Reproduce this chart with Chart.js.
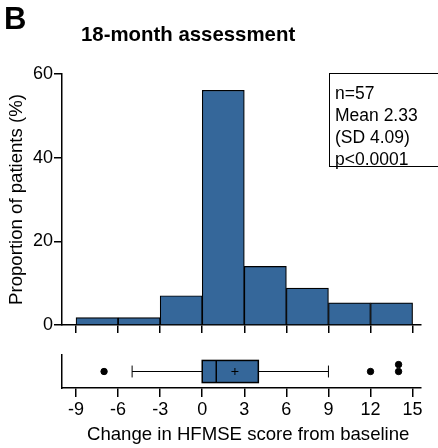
<!DOCTYPE html>
<html>
<head>
<meta charset="utf-8">
<script src="https://cdn.jsdelivr.net/npm/chart.js@4"></script>
<style>
    body { margin: 0; background: #fff; font-family: 'Liberation Sans', Arial, sans-serif; }
    #wrap { position: relative; width: 438px; height: 448px; overflow: hidden; }
    #panel { position: absolute; left: 4px; top: 1px; font-size: 31px; font-weight: bold; }
    #title { position: absolute; left: 81px; top: 23px; font-size: 20.4px; font-weight: bold; }
    #stats { position: absolute; left: 329px; top: 73px; width: 120px; height: 94px; border: 1px solid #000;
             box-sizing: border-box; padding: 8px 0 0 5px; font-size: 17.5px; line-height: 22px; }
    #xTitle { position: absolute; left: 87px; top: 423px; font-size: 18.6px; line-height: 21px; white-space: nowrap; }
    #histCanvas { position: absolute; left: 0; top: 0; }
    #boxCanvas { position: absolute; left: 0; top: 340px; }
</style>
</head>
<body>
<div id="wrap">
    <canvas id="histCanvas" width="438" height="345"></canvas>
    <canvas id="boxCanvas" width="438" height="108"></canvas>
    <div id="panel">B</div>
    <div id="title">18-month assessment</div>
    <div id="stats">n=57<br>Mean 2.33<br>(SD 4.09)<br>p&lt;0.0001</div>
    <div id="xTitle">Change in HFMSE score from baseline</div>
</div>
<script>
// histogram bins (width 3) and proportion of patients (%)
const binStarts = [-9, -6, -3, 0, 3, 6, 9, 12];
const proportions = [1.75, 1.75, 7.0, 56.1, 14.0, 8.8, 5.3, 5.3];
const xTicks = [-9, -6, -3, 0, 3, 6, 9, 12, 15];
const yTicks = [0, 20, 40, 60];

// box plot summary
const whiskerLow = -5, q1 = 0, median = 1, q3 = 4, whiskerHigh = 9, mean = 2.33;
const outlierX = [-7, 12, 14, 14];
const outlierY = [0, 0, 0, 0.42];

const barColor = '#35679a';
const fontFamily = "'Liberation Sans', Arial, sans-serif";
Chart.defaults.font.family = fontFamily;
Chart.defaults.color = '#000';

const X_MIN = -10, X_MAX = 15.6;

new Chart(document.getElementById('histCanvas'), {
    type: 'bar',
    data: {
        datasets: [{
            data: binStarts.map((s, i) => ({ x: s + 1.5, y: proportions[i] })),
            backgroundColor: barColor,
            borderColor: '#000',
            borderWidth: 1.2,
            barPercentage: 1,
            categoryPercentage: 1
        }]
    },
    options: {
        responsive: false,
        animation: false,
        layout: { padding: { top: 74, right: 17, left: 0, bottom: 0 } },
        plugins: { legend: { display: false }, tooltip: { enabled: false } },
        scales: {
            x: {
                type: 'linear', min: X_MIN, max: X_MAX, offset: false,
                afterBuildTicks: s => { s.ticks = xTicks.map(v => ({ value: v })); },
                afterFit: s => { s.height = 20; },
                ticks: { display: false },
                grid: { drawOnChartArea: false, offset: false, tickLength: 8, color: '#000', lineWidth: 1.5 },
                border: { color: '#000', width: 1.5 }
            },
            y: {
                min: 0, max: 60,
                afterBuildTicks: s => { s.ticks = yTicks.map(v => ({ value: v })); },
                afterFit: s => { s.width = 62; },
                ticks: { font: { size: 18 }, padding: 1 },
                grid: { drawOnChartArea: false, tickLength: 8, color: '#000', lineWidth: 1.5 },
                border: { color: '#000', width: 1.5 },
                title: { display: true, text: 'Proportion of patients (%)', font: { size: 18.6 }, padding: { top: 6, bottom: 0 } }
            }
        }
    }
});

const boxPlugin = {
    id: 'boxPlot',
    beforeDatasetsDraw(chart) {
        const { ctx, scales: { x, y } } = chart;
        const yc = y.getPixelForValue(0);
        const top = y.getPixelForValue(0.67), bot = y.getPixelForValue(-0.67);
        const capT = y.getPixelForValue(0.36), capB = y.getPixelForValue(-0.36);
        const px = v => x.getPixelForValue(v);
        ctx.save();
        ctx.strokeStyle = '#000';
        ctx.lineWidth = 1;
        ctx.beginPath();
        ctx.moveTo(px(whiskerLow), yc); ctx.lineTo(px(q1), yc);
        ctx.moveTo(px(q3), yc); ctx.lineTo(px(whiskerHigh), yc);
        ctx.moveTo(px(whiskerLow), capT); ctx.lineTo(px(whiskerLow), capB);
        ctx.moveTo(px(whiskerHigh), capT); ctx.lineTo(px(whiskerHigh), capB);
        ctx.stroke();
        ctx.fillStyle = barColor;
        ctx.fillRect(px(q1), top, px(q3) - px(q1), bot - top);
        ctx.lineWidth = 1.5;
        ctx.strokeRect(px(q1), top, px(q3) - px(q1), bot - top);
        ctx.beginPath();
        ctx.moveTo(px(median), top); ctx.lineTo(px(median), bot);
        ctx.stroke();
        ctx.restore();
    }
};

new Chart(document.getElementById('boxCanvas'), {
    type: 'scatter',
    data: {
        datasets: [{
            data: outlierX.map((v, i) => ({ x: v, y: outlierY[i] })),
            pointRadius: 3.2, backgroundColor: '#000', borderColor: '#000'
        }, {
            data: [{ x: mean, y: 0 }],
            pointStyle: 'cross', pointRadius: 3.5, borderColor: '#000', borderWidth: 1
        }]
    },
    plugins: [boxPlugin],
    options: {
        responsive: false,
        animation: false,
        layout: { padding: { top: 15, right: 17, left: 0, bottom: 0 } },
        plugins: { legend: { display: false }, tooltip: { enabled: false } },
        scales: {
            x: {
                type: 'linear', min: X_MIN, max: X_MAX,
                afterBuildTicks: s => { s.ticks = xTicks.map(v => ({ value: v })); },
                afterFit: s => { s.height = 60; },
                ticks: { font: { size: 18 }, padding: 2 },
                grid: { drawOnChartArea: false, tickLength: 9, color: '#000', lineWidth: 1.5 },
                border: { color: '#000', width: 1.5 }
            },
            y: {
                min: -1, max: 1,
                afterFit: s => { s.width = 62; },
                ticks: { display: false },
                grid: { display: false },
                border: { display: true, color: '#000', width: 1.5 }
            }
        }
    }
});
</script>
</body>
</html>
